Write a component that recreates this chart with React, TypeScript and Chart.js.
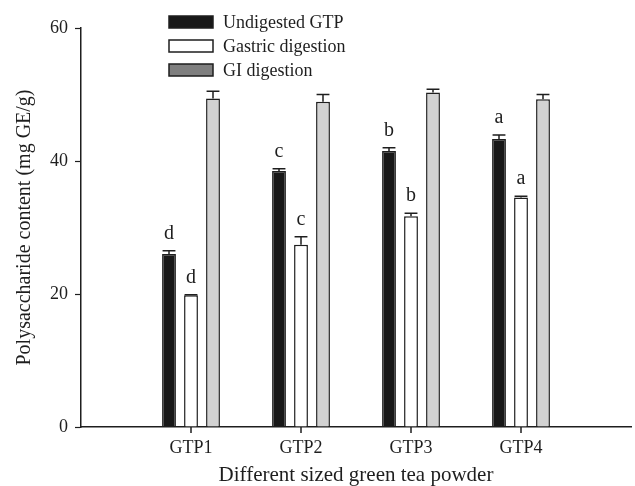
import React, { useEffect, useRef } from "react";
import { Chart, registerables } from "chart.js";

Chart.register(...registerables);

const categories = ["GTP1", "GTP2", "GTP3", "GTP4"];
const seriesNames = ["Undigested GTP", "Gastric digestion", "GI digestion"];
const undigested = [26.0, 38.5, 41.5, 43.3];
const undigestedErr = [0.5, 0.35, 0.5, 0.6];
const gastric = [19.8, 27.4, 31.7, 34.5];
const gastricErr = [0.1, 1.2, 0.45, 0.2];
const giDigestion = [49.4, 48.9, 50.3, 49.3];
const giErr = [1.1, 1.1, 0.5, 0.7];
const undigestedLetters = ["d", "c", "b", "a"];
const gastricLetters = ["d", "c", "b", "a"];
const giLetters = ["", "", "", ""];
const yTicks = [0, 20, 40, 60];

const FONT = "'Liberation Serif', 'DejaVu Serif', 'Times New Roman', serif";
const INK = "#1e1e1e";

const pad = (arr: number[]) => [null, ...arr, null];
const padStr = (arr: string[]) => ["", ...arr, ""];

const errors = [undigestedErr, gastricErr, giErr];
const letters = [undigestedLetters, gastricLetters, giLetters];
const fills = ["#181818", "#ffffff", "#d2d2d2"];
const legendFills = ["#181818", "#ffffff", "#7f7f7f"];

const errorBarPlugin = {
  id: "errorBars",
  afterDatasetsDraw(chart: any) {
    const ctx = chart.ctx;
    const yScale = chart.scales.y;
    ctx.save();
    chart.data.datasets.forEach((ds: any, i: number) => {
      const meta = chart.getDatasetMeta(i);
      meta.data.forEach((bar: any, j: number) => {
        const v = ds.data[j];
        if (v == null) return;
        const err = errors[i][j - 1];
        const p = bar.getProps(["x", "y", "width"], true);
        const yTop = yScale.getPixelForValue(v + err);
        const half = p.width / 2 - 0.5;
        ctx.strokeStyle = INK;
        ctx.lineWidth = 1.5;
        ctx.beginPath();
        ctx.moveTo(p.x, p.y);
        ctx.lineTo(p.x, yTop);
        ctx.moveTo(p.x - half, yTop);
        ctx.lineTo(p.x + half, yTop);
        ctx.stroke();
        const letter = letters[i][j - 1];
        if (letter) {
          ctx.fillStyle = INK;
          ctx.font = `20px ${FONT}`;
          ctx.textAlign = "center";
          ctx.textBaseline = "alphabetic";
          ctx.fillText(letter, p.x, yTop - 12);
        }
      });
    });
    ctx.restore();
  },
};

const legendPlugin = {
  id: "customLegend",
  afterDraw(chart: any) {
    const ctx = chart.ctx;
    ctx.save();
    // category tick marks below the x axis
    const xScale = chart.scales.x;
    const axisY = chart.chartArea.bottom;
    ctx.strokeStyle = INK;
    ctx.lineWidth = 1.5;
    categories.forEach((_, k) => {
      const px = Math.round(xScale.getPixelForValue(k + 1));
      ctx.beginPath();
      ctx.moveTo(px, axisY);
      ctx.lineTo(px, axisY + 6);
      ctx.stroke();
    });
    seriesNames.forEach((name, i) => {
      const cy = 22 + i * 24;
      ctx.fillStyle = legendFills[i];
      ctx.fillRect(169, cy - 6, 44, 12);
      ctx.strokeStyle = INK;
      ctx.lineWidth = 1.5;
      ctx.strokeRect(169, cy - 6, 44, 12);
      ctx.fillStyle = INK;
      ctx.font = `18px ${FONT}`;
      ctx.textAlign = "left";
      ctx.textBaseline = "middle";
      ctx.fillText(name, 223, cy + 1);
    });
    ctx.restore();
  },
};

export default function App() {
  const ref = useRef<HTMLCanvasElement | null>(null);

  useEffect(() => {
    if (!ref.current) return;
    const seriesData = [undigested, gastric, giDigestion];
    const chart = new Chart(ref.current, {
      type: "bar",
      data: {
        labels: padStr(categories),
        datasets: seriesNames.map((name, i) => ({
          label: name,
          data: pad(seriesData[i]) as any,
          backgroundColor: fills[i],
          borderColor: INK,
          borderWidth: 1.5,
          categoryPercentage: 0.6,
          barPercentage: 0.63,
        })),
      },
      options: {
        animation: false,
        responsive: false,
        maintainAspectRatio: false,
        layout: { padding: { top: 28, right: 0, left: 0, bottom: 0 } },
        plugins: {
          legend: { display: false },
          tooltip: { enabled: false },
        },
        scales: {
          x: {
            type: "category",
            offset: false,
            grid: {
              display: true,
              offset: false,
              drawOnChartArea: false,
              drawTicks: true,
              tickLength: 6,
              tickWidth: 1.2,
              tickColor: "rgba(0,0,0,0)",
            },
            border: { display: true, color: INK, width: 1.5 },
            ticks: {
              color: INK,
              font: { family: FONT, size: 18 },
              padding: 4,
              autoSkip: false,
              maxRotation: 0,
            },
            title: {
              display: true,
              text: "Different sized green tea powder",
              color: INK,
              font: { family: FONT, size: 21, lineHeight: 1 },
              padding: { top: 0, bottom: 0 },
            },
            afterFit: (s: any) => {
              s.height = 59;
            },
          },
          y: {
            min: 0,
            max: 60,
            afterBuildTicks: (s: any) => {
              s.ticks = yTicks.map((v) => ({ value: v }));
            },
            grid: {
              display: true,
              drawOnChartArea: false,
              drawTicks: true,
              tickLength: 6,
              tickWidth: 1.2,
              tickColor: INK,
            },
            border: { display: true, color: INK, width: 1.5 },
            ticks: {
              color: INK,
              font: { family: FONT, size: 18 },
              padding: 7,
            },
            title: {
              display: true,
              text: "Polysaccharide content (mg GE/g)",
              color: INK,
              font: { family: FONT, size: 20 },
              padding: { top: 13, bottom: 0 },
            },
            afterFit: (s: any) => {
              s.width = 81;
            },
          },
        },
      },
      plugins: [errorBarPlugin, legendPlugin],
    });
    return () => chart.destroy();
  }, []);

  return (
    <div style={{ position: "absolute", left: 0, top: 0, width: 635, height: 486, background: "#fff" }}>
      <canvas ref={ref} width={635} height={486} style={{ width: 635, height: 486, display: "block" }} />
    </div>
  );
}
